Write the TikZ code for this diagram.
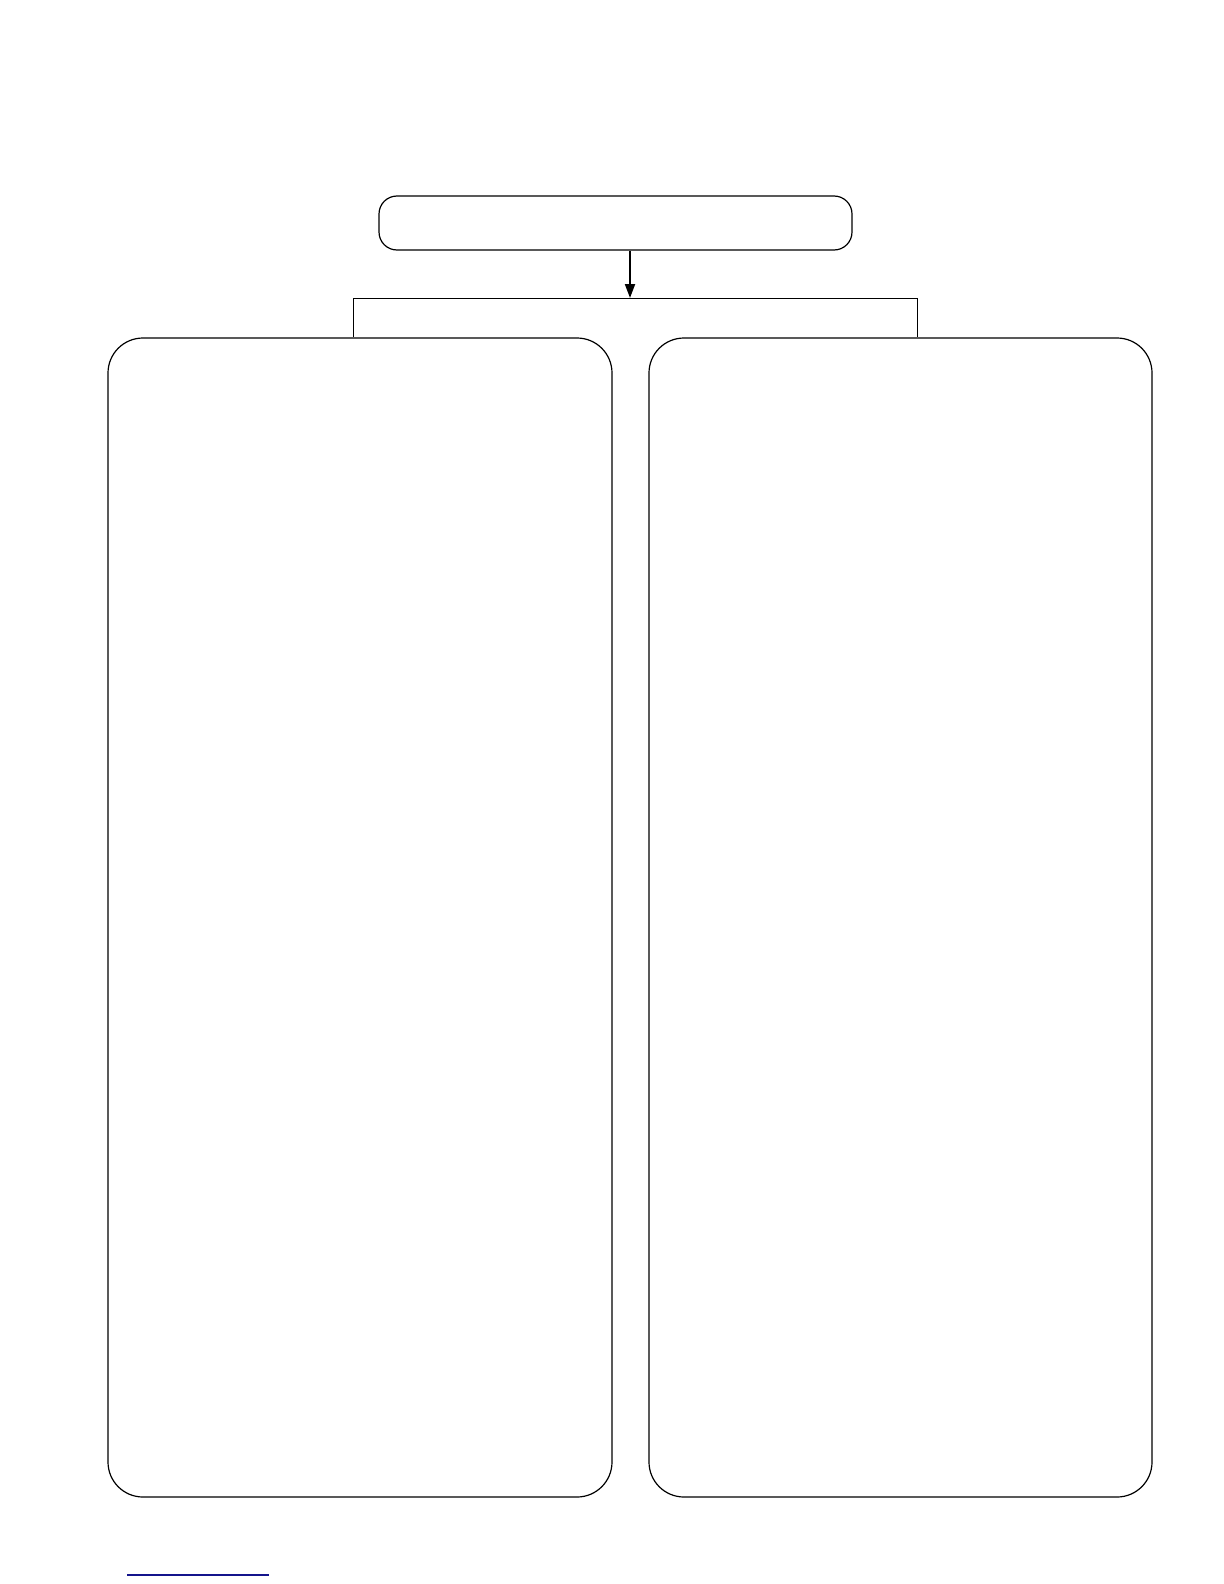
\documentclass[tikz,border=0pt]{standalone}
\usetikzlibrary{arrows.meta}
\definecolor{rulenavy}{RGB}{20,20,140}
\begin{document}
\begin{tikzpicture}[x=0.5pt,y=-0.5pt,
  line width=0.6pt,
  topbox/.style={draw, rounded corners=9pt, inner sep=0pt, minimum width=236.5pt, minimum height=27pt},
  bigbox/.style={draw, rounded corners=17.5pt, inner sep=0pt, minimum height=579.5pt},
  arr/.style={line width=1pt, -{Triangle[length=7pt,width=5pt]}},
  bracket/.style={line width=0.45pt},
  footrule/.style={draw=rulenavy, line width=0.75pt}]
\useasboundingbox (0,0) rectangle (1224,1584);
\node[topbox] (top) at (615.5,223) {};
\node[bigbox, minimum width=252pt] (left) at (360,917.5) {};
\node[bigbox, minimum width=251.5pt] (right) at (900.5,917.5) {};
\coordinate (bl) at (353,298);
\coordinate (br) at (917,298);
\coordinate (ax) at (630,298);
\draw[bracket] (bl |- left.north) -- (bl) -- (br) -- (br |- right.north);
\draw[arr] (top.south -| ax) -- (ax);
\coordinate (f1) at (127,1575);
\coordinate (f2) at (269,1575);
\draw[footrule] (f1) -- (f2);
\end{tikzpicture}
\end{document}
